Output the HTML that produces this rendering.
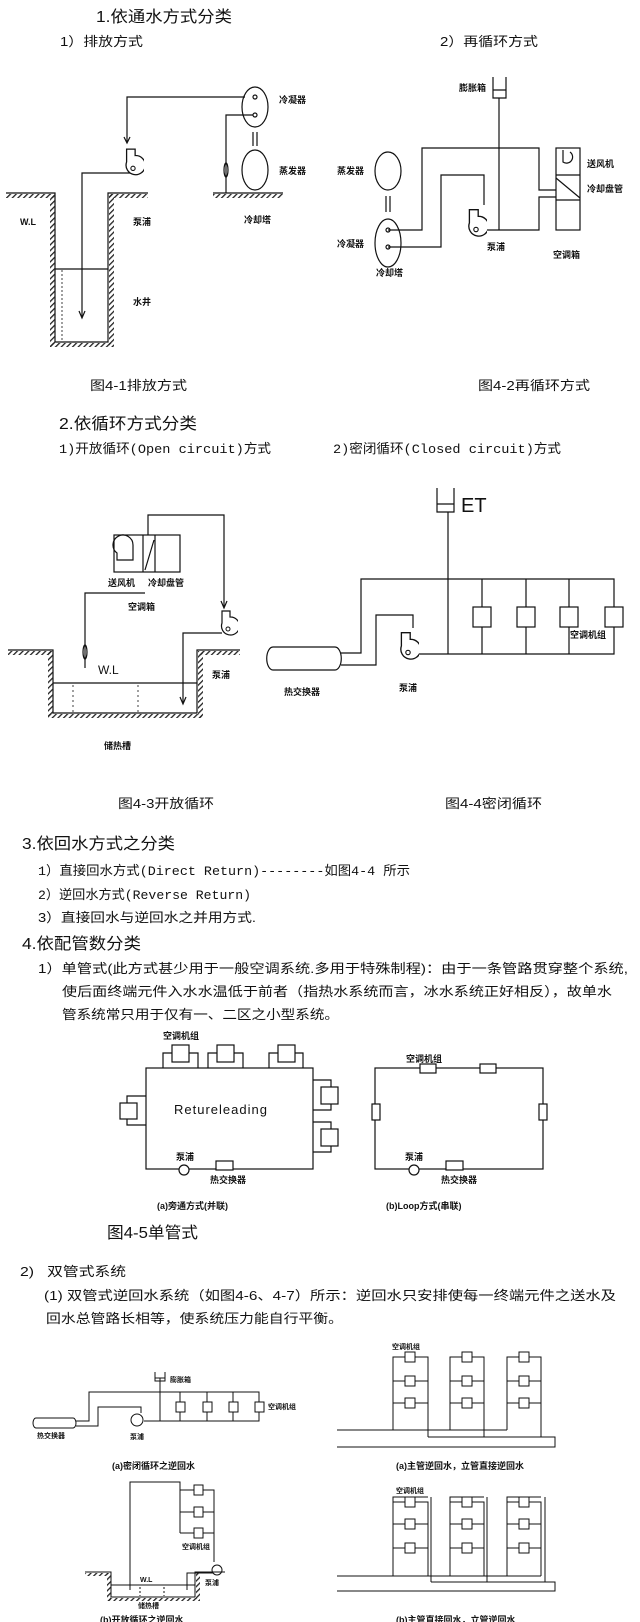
<!DOCTYPE html>
<html><head><meta charset="utf-8"><style>
html,body{margin:0;padding:0;background:#fff;}
svg{display:block;}
text{font-family:"Liberation Sans","Noto Sans CJK SC",sans-serif;fill:#111;}
.h{font-size:16px;}
.b{font-size:13px;}
.c{font-size:12px;}
.s{font-size:9px;font-weight:bold;}
.t{font-size:7px;font-weight:bold;}
.m{font-family:"Liberation Mono","Noto Sans CJK SC",monospace;}
</style></head><body>
<svg width="640" height="1622" viewBox="0 0 640 1622" xmlns="http://www.w3.org/2000/svg">
<defs>
<pattern id="ht" width="4" height="4" patternUnits="userSpaceOnUse" patternTransform="rotate(45)">
<rect width="1.3" height="4" fill="#222"/>
</pattern>
<symbol id="pump" viewBox="0 0 20 30">
<path d="M4 2 H12 V8 A9 9 0 1 1 4 14 Z" fill="#fff" stroke="#111" stroke-width="1.2"/>
<circle cx="10" cy="20" r="2" fill="none" stroke="#111" stroke-width="1"/>
</symbol>
</defs>
<g stroke="#111" stroke-width="1.2" fill="none">
<path d="M127 142 V97 H245"/>
<path d="M124 137 L127 143 L130 137"/>
<path d="M133 173 H82 V317"/>
<path d="M79 311 L82 318 L85 311"/>
<ellipse cx="255" cy="107" rx="13" ry="20"/>
<circle cx="255" cy="97" r="2"/><circle cx="255" cy="115" r="2"/>
<path d="M253 115 H226 V193"/>
<ellipse cx="226" cy="170" rx="2" ry="7"/>
<path d="M253 132 V146 M257 132 V146"/>
<ellipse cx="255" cy="170" rx="13" ry="20"/>
<path d="M213 193 H283"/>
<path d="M6 193 H55 V342 H108 V193 H148"/>
<path d="M55 269 H108"/>
<path d="M62 270 V342" stroke-dasharray="2,2" stroke-width="0.8"/>
</g>
<rect x="213" y="194" width="70" height="4" fill="url(#ht)"/>
<rect x="6" y="194" width="49" height="4" fill="url(#ht)"/>
<rect x="50" y="194" width="5" height="153" fill="url(#ht)"/>
<rect x="50" y="343" width="63" height="4" fill="url(#ht)"/>
<rect x="109" y="194" width="5" height="153" fill="url(#ht)"/>
<rect x="109" y="194" width="39" height="4" fill="url(#ht)"/>
<use href="#pump" x="122" y="147" width="22" height="32"/>
<g stroke="#111" stroke-width="1.2" fill="none">
<path d="M493 77 V98 H506 V77 M493 90 H506"/>
<path d="M499 98 V230"/>
<path d="M388 230 H422 V148 H539 V190 H556"/>
<path d="M388 247 H441 V175 H484 V205"/>
<path d="M478 230 H539 V197 H556"/>
<ellipse cx="388" cy="243" rx="13" ry="24"/>
<circle cx="388" cy="230" r="2"/><circle cx="388" cy="247" r="2"/>
<ellipse cx="388" cy="171" rx="13" ry="19"/>
<path d="M386 196 V212 M390 196 V212"/>
<rect x="556" y="148" width="24" height="82"/>
<path d="M556 175 H580 M556 200 H580 M556 178 L580 198"/>
<path d="M563 150 V162 A6 6 0 1 0 570 152"/>
</g>
<use href="#pump" x="465" y="203" width="22" height="42"/>
<g stroke="#111" stroke-width="1.2" fill="none">
<rect x="114" y="535" width="66" height="37"/>
<path d="M143 535 V572 M155 535 V572 M145 570 L154 540"/>
<path d="M117 553 A10 10 0 1 1 133 545 V560 H117 Z"/>
<path d="M148 535 V515 H224 V607"/>
<path d="M221 601 L224 608 L227 601"/>
<path d="M145 593 H85 V668"/>
<ellipse cx="85" cy="652" rx="2" ry="7"/>
<path d="M222 633 H183 V703"/>
<path d="M180 697 L183 704 L186 697"/>
<path d="M8 650 H53 V713 H197 V650 H240"/>
<path d="M53 683 H197"/>
<path d="M73 685 V712 M138 685 V712" stroke-dasharray="2,3" stroke-width="0.8"/>
</g>
<rect x="8" y="651" width="45" height="4" fill="url(#ht)"/>
<rect x="48" y="651" width="5" height="67" fill="url(#ht)"/>
<rect x="48" y="714" width="154" height="4" fill="url(#ht)"/>
<rect x="198" y="651" width="5" height="67" fill="url(#ht)"/>
<rect x="198" y="651" width="42" height="4" fill="url(#ht)"/>
<use href="#pump" x="218" y="608" width="20" height="32"/>
<g stroke="#111" stroke-width="1.2" fill="none">
<path d="M437 488 V512 H454 V488 M437 504 H454"/>
<path d="M448 512 V654"/>
<path d="M341 653 H361 V579 H614 V654 H410"/>
<path d="M341 665 H376 V615 H413 V628"/>
<path d="M482 579 V654 M526 579 V654 M569 579 V654"/>
<rect x="473" y="607" width="18" height="20" fill="#fff"/>
<rect x="517" y="607" width="18" height="20" fill="#fff"/>
<rect x="560" y="607" width="18" height="20" fill="#fff"/>
<rect x="605" y="607" width="18" height="20" fill="#fff"/>
<path d="M273 647 H335 A6 11 0 0 1 335 670 H273 A6 11 0 0 1 273 647 Z"/>
</g>
<use href="#pump" x="397" y="627" width="22" height="40"/>
<g stroke="#111" stroke-width="1.2" fill="none">
<rect x="146" y="1068" width="167" height="101"/>
<path d="M163 1068 V1053 H198 V1068 M208 1068 V1053 H243 V1068 M269 1068 V1053 H303 V1068"/>
<rect x="172" y="1045" width="17" height="17" fill="#fff"/>
<rect x="217" y="1045" width="17" height="17" fill="#fff"/>
<rect x="278" y="1045" width="17" height="17" fill="#fff"/>
<path d="M146 1096 H127 V1125 H146"/>
<rect x="120" y="1103" width="17" height="16" fill="#fff"/>
<path d="M313 1080 H331 V1110 H313 M313 1122 H331 V1152 H313"/>
<rect x="321" y="1087" width="17" height="17" fill="#fff"/>
<rect x="321" y="1129" width="17" height="17" fill="#fff"/>
<rect x="216" y="1161" width="17" height="9" fill="#fff"/>
<circle cx="184" cy="1170" r="5" fill="#fff"/>
<rect x="375" y="1068" width="168" height="101"/>
<rect x="420" y="1064" width="16" height="9" fill="#fff"/>
<rect x="480" y="1064" width="16" height="9" fill="#fff"/>
<rect x="372" y="1104" width="8" height="16" fill="#fff"/>
<rect x="539" y="1104" width="8" height="16" fill="#fff"/>
<rect x="446" y="1161" width="17" height="9" fill="#fff"/>
<circle cx="414" cy="1170" r="5" fill="#fff"/>
</g>
<g stroke="#111" stroke-width="1" fill="none">
<path d="M76 1421 H89 V1392 H259 V1421 H144"/>
<path d="M76 1426 H98 V1407 H141 V1413"/>
<path d="M160 1378 V1421 M180 1392 V1421 M207 1392 V1421 M233 1392 V1421"/>
<path d="M155 1372 V1381 H165 V1372 M155 1378 H165"/>
<rect x="176" y="1402" width="9" height="10" fill="#fff"/>
<rect x="203" y="1402" width="9" height="10" fill="#fff"/>
<rect x="229" y="1402" width="9" height="10" fill="#fff"/>
<rect x="255" y="1402" width="9" height="10" fill="#fff"/>
<path d="M36 1418 H73 A3 5 0 0 1 73 1428 H36 A3 5 0 0 1 36 1418 Z"/>
<circle cx="137" cy="1420" r="6" fill="#fff"/>
<path d="M130 1590 V1482 H180 V1533 M180 1490 H214 V1562 M180 1512 H214 M180 1533 H214"/>
<rect x="194" y="1485" width="9" height="10" fill="#fff"/>
<rect x="194" y="1507" width="9" height="10" fill="#fff"/>
<rect x="194" y="1528" width="9" height="10" fill="#fff"/>
<path d="M214 1573 H187 V1590"/>
<circle cx="217" cy="1570" r="5" fill="#fff"/>
<path d="M85 1572 H111 V1597 H195 V1572 H225"/>
<path d="M111 1585 H195"/>
<path d="M140 1587 V1596 M164 1587 V1596" stroke-dasharray="2,2"/>
<path d="M393 1430 V1357 H428 V1437 M393 1381 H428 M393 1403 H428"/>
<path d="M450 1430 V1357 H484 V1437 M450 1381 H484 M450 1403 H484"/>
<path d="M507 1430 V1357 H541 V1437 M507 1381 H541 M507 1403 H541"/>
<path d="M337 1430 H507 M428 1437 H555 V1447 H337"/>
<path d="M393 1576 V1497 H428 M393 1502 H428 V1576 M393 1524 H428 M393 1548 H428"/>
<path d="M450 1576 V1497 H484 M450 1502 H484 V1576 M450 1524 H484 M450 1548 H484"/>
<path d="M507 1576 V1497 H541 M507 1502 H541 V1576 M507 1524 H541 M507 1548 H541"/>
<path d="M431 1582 V1497 M487 1582 V1497 M545 1582 V1497"/>
<path d="M337 1576 H541 M431 1582 H555 V1591 H337"/>
</g>
<g fill="#fff" stroke="#111" stroke-width="1">
<rect x="405" y="1352" width="10" height="10"/><rect x="405" y="1376" width="10" height="10"/><rect x="405" y="1398" width="10" height="10"/>
<rect x="462" y="1352" width="10" height="10"/><rect x="462" y="1376" width="10" height="10"/><rect x="462" y="1398" width="10" height="10"/>
<rect x="519" y="1352" width="10" height="10"/><rect x="519" y="1376" width="10" height="10"/><rect x="519" y="1398" width="10" height="10"/>
<rect x="405" y="1497" width="10" height="10"/><rect x="405" y="1519" width="10" height="10"/><rect x="405" y="1543" width="10" height="10"/>
<rect x="462" y="1497" width="10" height="10"/><rect x="462" y="1519" width="10" height="10"/><rect x="462" y="1543" width="10" height="10"/>
<rect x="519" y="1497" width="10" height="10"/><rect x="519" y="1519" width="10" height="10"/><rect x="519" y="1543" width="10" height="10"/>
</g>
<rect x="85" y="1573" width="26" height="3" fill="url(#ht)"/>
<rect x="107" y="1573" width="4" height="28" fill="url(#ht)"/>
<rect x="107" y="1598" width="92" height="3" fill="url(#ht)"/>
<rect x="196" y="1573" width="4" height="28" fill="url(#ht)"/>

<text class="h" x="96" y="22" textLength="136" lengthAdjust="spacingAndGlyphs">1.依通水方式分类</text>
<text class="b" x="60" y="46" textLength="83" lengthAdjust="spacingAndGlyphs">1）排放方式</text>
<text class="b" x="440" y="46" textLength="98" lengthAdjust="spacingAndGlyphs">2）再循环方式</text>
<text class="s" x="279" y="103">冷凝器</text>
<text class="s" x="279" y="174">蒸发器</text>
<text class="s" x="244" y="223">冷却塔</text>
<text class="s" x="20" y="225">W.L</text>
<text class="s" x="133" y="225">泵浦</text>
<text class="s" x="133" y="305">水井</text>
<text class="b" x="90" y="390" textLength="97" lengthAdjust="spacingAndGlyphs">图4-1排放方式</text>
<text class="s" x="459" y="91">膨胀箱</text>
<text class="s" x="337" y="174">蒸发器</text>
<text class="s" x="337" y="247">冷凝器</text>
<text class="s" x="376" y="276">冷却塔</text>
<text class="s" x="487" y="250">泵浦</text>
<text class="s" x="553" y="258">空调箱</text>
<text class="s" x="587" y="167">送风机</text>
<text class="s" x="587" y="192">冷却盘管</text>
<text class="b" x="478" y="390" textLength="112" lengthAdjust="spacingAndGlyphs">图4-2再循环方式</text>

<text class="h" x="59" y="429" textLength="138" lengthAdjust="spacingAndGlyphs">2.依循环方式分类</text>
<text class="b m" x="59" y="453" textLength="212" lengthAdjust="spacingAndGlyphs">1)开放循环(Open circuit)方式</text>
<text class="b m" x="333" y="453" textLength="228" lengthAdjust="spacingAndGlyphs">2)密闭循环(Closed circuit)方式</text>
<text class="s" x="108" y="586">送风机</text>
<text class="s" x="148" y="586">冷却盘管</text>
<text class="s" x="128" y="610">空调箱</text>
<text class="c" x="98" y="674" style="font-weight:300">W.L</text>
<text class="s" x="212" y="678">泵浦</text>
<text class="s" x="104" y="749">储热槽</text>
<text x="461" y="512" style="font-size:20px;font-weight:300">ET</text>
<text class="s" x="284" y="695">热交换器</text>
<text class="s" x="399" y="691">泵浦</text>
<text class="s" x="570" y="638">空调机组</text>
<text class="b" x="118" y="808" textLength="96" lengthAdjust="spacingAndGlyphs">图4-3开放循环</text>
<text class="b" x="445" y="808" textLength="97" lengthAdjust="spacingAndGlyphs">图4-4密闭循环</text>

<text class="h" x="22" y="849" textLength="153" lengthAdjust="spacingAndGlyphs">3.依回水方式之分类</text>
<text class="b m" x="38" y="875" textLength="372" lengthAdjust="spacingAndGlyphs">1）直接回水方式(Direct Return)--------如图4-4 所示</text>
<text class="b m" x="38" y="899" textLength="213" lengthAdjust="spacingAndGlyphs">2）逆回水方式(Reverse Return)</text>
<text class="b" x="38" y="922" textLength="218" lengthAdjust="spacingAndGlyphs">3）直接回水与逆回水之并用方式.</text>
<text class="h" x="22" y="949" textLength="119" lengthAdjust="spacingAndGlyphs">4.依配管数分类</text>
<text class="b" x="38" y="973" textLength="590" lengthAdjust="spacingAndGlyphs">1）单管式(此方式甚少用于一般空调系统.多用于特殊制程)：由于一条管路贯穿整个系统,</text>
<text class="b" x="62" y="996" textLength="550" lengthAdjust="spacingAndGlyphs">使后面终端元件入水水温低于前者（指热水系统而言，冰水系统正好相反），故单水</text>
<text class="b" x="62" y="1019" textLength="277" lengthAdjust="spacingAndGlyphs">管系统常只用于仅有一、二区之小型系统。</text>
<text class="s" x="163" y="1039">空调机组</text>
<text x="174" y="1114" style="font-size:13px;letter-spacing:1px">Retureleading</text>
<text class="s" x="176" y="1160">泵浦</text>
<text class="s" x="210" y="1183">热交换器</text>
<text class="s" x="406" y="1062">空调机组</text>
<text class="s" x="405" y="1160">泵浦</text>
<text class="s" x="441" y="1183">热交换器</text>
<text class="s" x="157" y="1209">(a)旁通方式(并联)</text>
<text class="s" x="386" y="1209">(b)Loop方式(串联)</text>
<text class="h" x="107" y="1238" textLength="91" lengthAdjust="spacingAndGlyphs">图4-5单管式</text>
<text class="b" x="20" y="1276" textLength="106" lengthAdjust="spacingAndGlyphs">2)&#160;&#160;&#160;双管式系统</text>
<text class="b" x="44" y="1300" textLength="572" lengthAdjust="spacingAndGlyphs">(1) 双管式逆回水系统（如图4-6、4-7）所示：逆回水只安排使每一终端元件之送水及</text>
<text class="b" x="46" y="1323" textLength="297" lengthAdjust="spacingAndGlyphs">回水总管路长相等，使系统压力能自行平衡。</text>
<text class="t" x="170" y="1382">膨胀箱</text>
<text class="t" x="268" y="1409">空调机组</text>
<text class="t" x="37" y="1438">热交换器</text>
<text class="t" x="130" y="1439">泵浦</text>
<text class="s" x="112" y="1469">(a)密闭循环之逆回水</text>
<text class="t" x="392" y="1349">空调机组</text>
<text class="s" x="396" y="1469">(a)主管逆回水，立管直接逆回水</text>
<text class="t" x="182" y="1549">空调机组</text>
<text class="t" x="140" y="1582">W.L</text>
<text class="t" x="205" y="1585">泵浦</text>
<text class="t" x="138" y="1608">储热槽</text>
<text class="t" x="396" y="1493">空调机组</text>
<text class="s" x="100" y="1623">(b)开放循环之逆回水</text>
<text class="s" x="396" y="1623">(b)主管直接回水，立管逆回水</text>
</svg>
</body></html>
